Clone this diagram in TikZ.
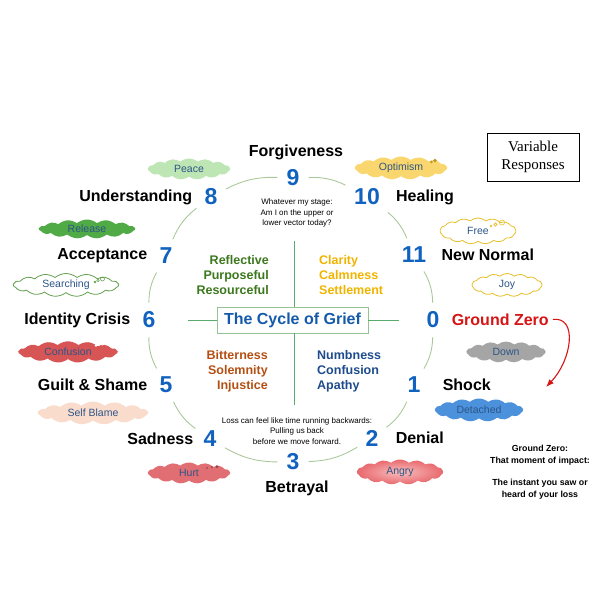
\documentclass[tikz,border=0pt]{standalone}
\usepackage{fontspec}
\setmainfont{Liberation Sans}
\newfontfamily\vrfont{Liberation Serif}
\usetikzlibrary{arrows.meta,positioning,shapes.symbols}
\definecolor{numblue}{RGB}{16,98,190}
\definecolor{ringgreen}{RGB}{170,200,155}
\definecolor{crossgreen}{RGB}{90,170,110}
\definecolor{boxgreen}{RGB}{150,195,150}
\definecolor{titleblue}{RGB}{20,90,170}
\definecolor{bubtext}{RGB}{45,85,135}
\definecolor{quadgreen}{RGB}{60,120,30}
\definecolor{quadgold}{RGB}{240,180,0}
\definecolor{quadrust}{RGB}{180,80,20}
\definecolor{quadblue}{RGB}{30,75,140}
\definecolor{gzred}{RGB}{215,20,20}
\definecolor{peacefill}{RGB}{190,230,180}
\definecolor{optfill}{RGB}{250,215,110}
\definecolor{relfill}{RGB}{80,170,70}
\definecolor{freeline}{RGB}{230,190,40}
\definecolor{searchline}{RGB}{100,160,80}
\definecolor{confill}{RGB}{215,85,85}
\definecolor{downfill}{RGB}{165,165,165}
\definecolor{blamefill}{RGB}{250,220,205}
\definecolor{detfill}{RGB}{75,145,220}
\definecolor{hurtfill}{RGB}{225,110,115}
\definecolor{angryin}{RGB}{248,190,190}
\definecolor{angryout}{RGB}{232,105,110}
\begin{document}
\begin{tikzpicture}[x=1pt,y=-1pt,>=Latex,
 num/.style={font=\bfseries\fontsize{23}{23}\selectfont,text=numblue,inner sep=4pt},
 stage/.style={font=\bfseries\fontsize{16}{18}\selectfont,inner sep=0pt},
 bubble/.style={cloud,cloud puffs=15,cloud puff arc=80,aspect=4,inner sep=0pt,minimum width=#1,
   font=\fontsize{10.5}{11}\selectfont,text=bubtext},
 quad/.style={font=\bfseries\fontsize{12.5}{15}\selectfont,inner sep=0pt},
 small/.style={font=\fontsize{8}{10.5}\selectfont,align=center,inner sep=0pt},
 ring/.style={draw=ringgreen,line width=0.9pt,bend left=15,shorten <=5pt,shorten >=5pt},
 cross/.style={draw=crossgreen,line width=1pt}]
\useasboundingbox (0,0) rectangle (600,600);
% clock numbers
\foreach \n/\x/\y in {9/293/178,10/367/197,11/414/255,0/433/320,1/414/385,2/372/438,
  3/293/462,4/210/439,5/166/385,6/149/320,7/166/256,8/211/197}
  \node[num] (n\n) at (\x,\y) {\n};
\foreach \a/\b in {9/10,10/11,11/0,0/1,1/2,2/3,3/4,4/5,5/6,6/7,7/8,8/9}
  \draw[ring] (n\a) to (n\b);
% stages
\node[stage] (forgive) at (296,152) {Forgiveness};
\node[stage,left=8pt of n8] (underst) {Understanding};
\node[stage,right=12pt of n10] (healing) {Healing};
\node[stage,right=11pt of n11] (newnorm) {New Normal};
\node[stage,left=8pt of n7] (accept) {Acceptance};
\node[stage,left=8pt of n6] (identity) {Identity Crisis};
\node[stage,right=8pt of n0,text=gzred] (gz) {Ground Zero};
\node[stage,left=8pt of n5] (guilt) {Guilt \& Shame};
\node[stage,right=18pt of n1] (shock) {Shock};
\node[stage,left=6pt of n4] (sadness) {Sadness};
\node[stage,right=13pt of n2] (denial) {Denial};
\node[stage] (betrayal) at (297,488) {Betrayal};
% responses
\node[bubble=82pt,minimum height=21pt,fill=peacefill] (peace) at (189,169) {Peace};
\node[bubble=92pt,minimum height=23pt,fill=optfill] (optim) at (401,168) {Optimism};
\node[bubble=96pt,minimum height=19pt,fill=relfill] (release) at (87,229) {Release};
\node[bubble=76pt,minimum height=26pt,draw=freeline,line width=0.8pt,fill=white] (free) at (478,231) {Free};
\node[bubble=105pt,minimum height=23pt,draw=searchline,line width=0.8pt,fill=white] (search) at (66,285) {Searching};
\node[bubble=70pt,minimum height=23pt,draw=freeline,line width=0.8pt,fill=white] (joy) at (507,285) {Joy};
\node[bubble=99pt,minimum height=21pt,fill=confill] (confus) at (68,352) {Confusion};
\node[bubble=79pt,minimum height=21pt,fill=downfill] (down) at (506,352) {Down};
\node[bubble=110pt,minimum height=23pt,fill=blamefill] (blame) at (93,413) {Self Blame};
\node[bubble=88pt,minimum height=23pt,fill=detfill] (detach) at (479,410) {Detached};
\node[bubble=82pt,minimum height=21pt,fill=hurtfill] (hurt) at (189,473) {Hurt};
\node[bubble=86pt,minimum height=25pt,inner color=angryin,outer color=angryout] (angry) at (400,472) {Angry};
% thought bubbles
\draw[freeline,line width=0.6pt] (491,226) circle (1pt) (495.5,224.5) circle (1.6pt) (502,222.5) circle (2.6pt);
\draw[searchline,line width=0.6pt] (95,282) circle (0.9pt) (98,280.5) circle (1.3pt) (102.5,279) circle (2pt);
\fill[freeline!80!black] (431.5,162) circle (1.4pt) (435,160.5) circle (1.8pt);
\draw[white,line width=0.6pt] (96,345.5) circle (0.9pt) (99,344.5) circle (1.2pt) (102.5,343.5) circle (1.8pt);
\fill[hurtfill!60!black] (207,468) circle (0.8pt) (212,467) circle (1pt) (217,466.5) circle (1.5pt);
% centre of the cycle
\node[draw=boxgreen,line width=0.8pt,minimum width=151pt,minimum height=26pt,inner sep=0pt,
  font=\bfseries\fontsize{16}{18}\selectfont,text=titleblue] (cycle) at (292.5,320) {The Cycle of Grief};
\coordinate (cw) at (188,320); \coordinate (ce) at (399,320);
\coordinate (cn) at (294,241); \coordinate (cs) at (294,405);
\draw[cross] (cycle.west) -- (cw); \draw[cross] (cycle.east) -- (ce);
\draw[cross] (cycle.north -| cn) -- (cn); \draw[cross] (cycle.south -| cs) -- (cs);
\node[quad,align=right,anchor=east,text=quadgreen] (upleft) at (269,275) {Reflective\\Purposeful\\Resourceful};
\node[quad,align=left,anchor=west,text=quadgold] (upright) at (319,275) {Clarity\\Calmness\\Settlement};
\node[quad,align=right,anchor=east,text=quadrust] (lowleft) at (268,371) {Bitterness\\Solemnity\\Injustice};
\node[quad,align=left,anchor=west,text=quadblue] (lowright) at (317,371) {Numbness\\Confusion\\Apathy};
\node[small] (question) at (297,213) {Whatever my stage:\\Am I on the upper or\\lower vector today?};
\node[small] (backward) at (297,431) {Loss can feel like time running backwards:\\Pulling us back\\before we move forward.};
% legend and note
\node[draw,line width=0.8pt,minimum width=92pt,minimum height=48pt,align=center,inner sep=0pt,
  font=\vrfont\fontsize{15}{18}\selectfont] (legend) at (533,157) {Variable\\Responses};
\node[align=center,inner sep=0pt,font=\bfseries\fontsize{8.8}{12.5}\selectfont] (gznote) at (540,472)
  {Ground Zero:\\That moment of impact:\\[9pt]The instant you saw or\\heard of your loss};
\coordinate (gzend) at (546,387);
\draw[->,gzred,line width=1.1pt,shorten <=4pt] (gz.east) .. controls (578,316) and (572,360) .. (gzend);
\end{tikzpicture}
\end{document}
